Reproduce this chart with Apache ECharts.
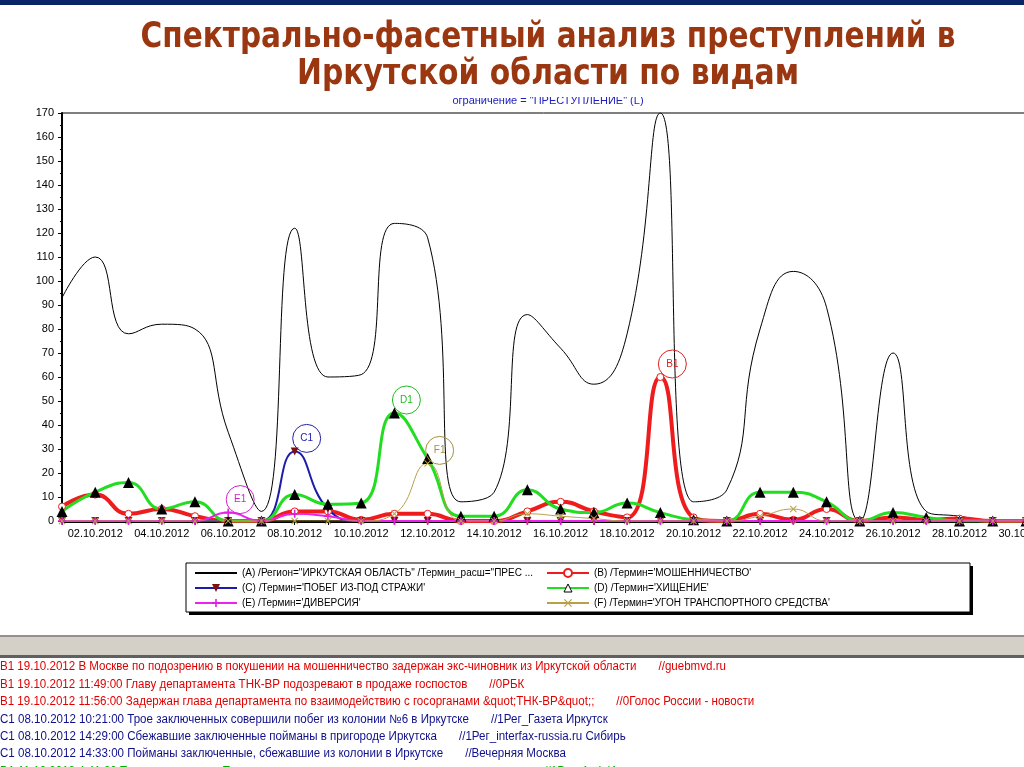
<!DOCTYPE html>
<html><head><meta charset="utf-8">
<script src="https://cdn.jsdelivr.net/npm/echarts@6/dist/echarts.min.js"></script>
<style>html,body{margin:0;padding:0;background:#fff;overflow:hidden}#c{width:1024px;height:767px}</style>
</head><body><div id="c"></div>
<script>
// ---- data ----
const days = ['01.10.2012','02.10.2012','03.10.2012','04.10.2012','05.10.2012','06.10.2012','07.10.2012','08.10.2012','09.10.2012','10.10.2012',
  '11.10.2012','12.10.2012','13.10.2012','14.10.2012','15.10.2012','16.10.2012','17.10.2012','18.10.2012','19.10.2012','20.10.2012',
  '21.10.2012','22.10.2012','23.10.2012','24.10.2012','25.10.2012','26.10.2012','27.10.2012','28.10.2012','29.10.2012','30.10.2012'];
const seriesNames = [
  '(A) /Регион="ИРКУТСКАЯ ОБЛАСТЬ" /Термин_расш="ПРЕС ...',
  "(B) /Термин='МОШЕННИЧЕСТВО'",
  "(C) /Термин='ПОБЕГ ИЗ-ПОД СТРАЖИ'",
  "(D) /Термин='ХИЩЕНИЕ'",
  "(E) /Термин='ДИВЕРСИЯ'",
  "(F) /Термин='УГОН ТРАНСПОРТНОГО СРЕДСТВА'"
];
const valuesA = [93,110,78,82,80,37,4,122,60,61,124,118,8,12,86,72,57,78,170,8,13,80,104,89,0,70,4,2,0,0];
const valuesB = [6,11,3,5,2,0,0,4,4,0.5,3,3,0,0,4,8,4,1.5,60,1.5,0,3,0.5,5,0,1.5,0.5,1,0,0];
const valuesC = [0,0,0,0,0,0,0,29,5,0,0,0,0,0,0,0,0,0,0,0,0,0,0,0,0,0,0,0,0,0];
const valuesD = [4,12,16,5,8,0,0,11,7,7.5,45,26,2,2,13,5,3.5,7.5,3.5,0.5,0,12,12,8,0,3.5,1.5,0,0,0];
const valuesE = [0,0,0,0,0,3.5,0,3,2,0,0,0,0,0,0,0,0,0,0,0,0,0,0,0,0,0,0,0,0,0];
const valuesF = [0,0,0,0,0,0,0,0,0,0,3,24,0,0,3,2,1,0,0,0,0,2,5,0,0,0,0,0,0,0];
const yTicks = {min: 0, max: 170, interval: 10};
const annoLabels = ['B1','C1','D1','E1','F1'];
const annoSeries = [1,2,3,4,5];
const annoDays = ['19.10.2012','08.10.2012','11.10.2012','06.10.2012','12.10.2012'];
const titleLines = ['Спектрально-фасетный анализ преступлений в','Иркутской области по видам'];
const subTitle = 'ограничение = "ПРЕСТУПЛЕНИЕ" (L)';
const newsText = [
  'B1 19.10.2012 В Москве по подозрению в покушении на мошенничество задержан экс-чиновник из Иркутской области',
  'B1 19.10.2012 11:49:00 Главу департамента ТНК-BP подозревают в продаже госпостов',
  'B1 19.10.2012 11:56:00 Задержан глава департамента по взаимодействию с госорганами &quot;ТНК-BP&quot;;',
  'C1 08.10.2012 10:21:00 Трое заключенных совершили побег из колонии №6 в Иркутске',
  'C1 08.10.2012 14:29:00 Сбежавшие заключенные пойманы в пригороде Иркутска',
  'C1 08.10.2012 14:33:00 Пойманы заключенные, сбежавшие из колонии в Иркутске',
  'D1 11.10.2012 4:41:00 Трое подростков в Приангарье подозреваются в нападении на почтальона'
];
const newsSource = ['//guebmvd.ru','//0РБК','//0Голос России - новости','//1Рег_Газета Иркутск','//1Рег_interfax-russia.ru Сибирь','//Вечерняя Москва','//1Рег_АиФ Иркутск новости'];
const newsKind = ['B','B','B','C','C','C','D'];

// ---- styles ----
const colors = ['#000000','#ee1c1c','#1c1ca8','#22dd22','#ee22ee','#b8a048'];
const widths = [1,4,2,3,2,1];
const kindColor = {B:'#e00000', C:'#10108c', D:'#00b000'};
const annoColor = ['#dd2222','#2222aa','#22bb22','#cc22cc','#a09040'];

const plusPath = 'path://M4,0H6V4H10V6H6V10H4V6H0V4H4Z';
const xPath = 'path://M1,0L5,4L9,0L10,1L6,5L10,9L9,10L5,6L1,10L0,9L4,5L0,1Z';

const ctx = document.createElement('canvas').getContext('2d');
function measure(t, font){ ctx.font = font; return ctx.measureText(t).width; }

const chart = echarts.init(document.getElementById('c'));

const vals = [valuesA, valuesB, valuesC, valuesD, valuesE, valuesF];
const symbols = ['none','circle','triangle','triangle',plusPath,xPath];
const symSize = [0,7,8,11,8,7];
const itemStyles = [
  {color:'#000'},
  {color:'#fff', borderColor:'#ee1c1c', borderWidth:1},
  {color:'#801010'},
  {color:'#000'},
  {color:'#dd22dd'},
  {color:'#b8a048'}
];

const series = seriesNames.map((n,i)=>({
  name:n, type:'line', data: vals[i], smooth:0.5,
  symbol: symbols[i], symbolSize: symSize[i], showSymbol: i>0,
  symbolRotate: i===2 ? 180 : 0,
  lineStyle:{color:colors[i], width:widths[i]},
  itemStyle: itemStyles[i],
  emphasis:{disabled:true}, animation:false
}));
annoLabels.forEach((lab,k)=>{
  const si = annoSeries[k];
  const di = days.indexOf(annoDays[k]);
  series[si].markPoint = {
    symbol:'circle', symbolSize:28, symbolOffset:[12,-13], silent:true, animation:false,
    itemStyle:{color:'rgba(255,255,255,0)', borderColor:annoColor[k], borderWidth:1},
    label:{show:true, position:'inside', formatter:lab, color:annoColor[k], fontSize:10, fontFamily:'Liberation Sans'},
    data:[{coord:[days[di], vals[si][di]]}]
  };
});

// graphics
const g = [];
g.push({type:'rect', shape:{x:0,y:0,width:1024,height:5}, style:{fill:'#0a246a'}});
const tFont = 'bold 36px "DejaVu Sans"';
const tTargets = [815, 502];
const tY = [38, 75];
titleLines.forEach((t,i)=>{
  const w = measure(t, tFont);
  g.push({type:'text', x:548, y:tY[i], scaleX: tTargets[i]/w, scaleY:1,
    style:{text:t, font:tFont, fill:'#9a3610', align:'center', verticalAlign:'middle'}});
});
g.push({type:'text', x:548, y:101, style:{text:subTitle, font:'11px "Liberation Sans"', fill:'#2020c0', align:'center', verticalAlign:'middle'}});
g.push({type:'rect', shape:{x:440,y:92,width:220,height:5}, style:{fill:'#fff'}, z:10});
// legend frame
g.push({type:'rect', shape:{x:189,y:566,width:784,height:49}, style:{fill:'#000'}, z:-1});
g.push({type:'rect', shape:{x:186,y:563,width:784,height:49}, style:{fill:'#fff', stroke:'#000', lineWidth:1}, z:-1});
// gray band
g.push({type:'rect', shape:{x:0,y:636,width:1024,height:22}, style:{fill:'#d4d0c8'}});
g.push({type:'rect', shape:{x:0,y:635,width:1024,height:2}, style:{fill:'#909090'}});
g.push({type:'rect', shape:{x:0,y:655,width:1024,height:3}, style:{fill:'#606060'}});
// news
const nFont = '12px "Liberation Sans"';
const nScale = 437 / measure(newsText[4], nFont);
newsText.forEach((t,i)=>{
  const y = 667 + i*17.4;
  const w = measure(t, nFont)*nScale;
  g.push({type:'text', x:0, y:y, scaleX:nScale, style:{text:t, font:nFont, fill:kindColor[newsKind[i]], verticalAlign:'middle'}});
  g.push({type:'text', x:w+22, y:y, scaleX:nScale, style:{text:newsSource[i], font:nFont, fill:kindColor[newsKind[i]], verticalAlign:'middle'}});
});

const legendCommon = {orient:'vertical', itemWidth:42, itemHeight:10, itemGap:5, top:563,
  textStyle:{fontSize:10, fontFamily:'Liberation Sans', color:'#000'}, selectedMode:false};

chart.setOption({
  animation:false,
  grid:{left:62, right:-2, top:113, bottom:246, outerBoundsMode:'none', containLabel:false, show:true, borderColor:'#000', borderWidth:1, backgroundColor:'transparent'},
  xAxis:{type:'category', data:days, boundaryGap:false,
    axisLine:{lineStyle:{color:'#000', width:3}},
    axisTick:{show:true, interval:0, length:4, lineStyle:{color:'#000'}},
    axisLabel:{interval:(i)=>i%2===1, color:'#000', fontSize:11, fontFamily:'Liberation Sans', margin:7, showMaxLabel:true, hideOverlap:false},
    splitLine:{show:false}},
  yAxis:{type:'value', min:yTicks.min, max:yTicks.max, interval:yTicks.interval,
    axisLine:{show:true, lineStyle:{color:'#000', width:2}},
    axisTick:{show:true, length:4, lineStyle:{color:'#000'}},
    minorTick:{show:true, splitNumber:2, length:2, lineStyle:{color:'#000'}},
    axisLabel:{color:'#000', fontSize:11, fontFamily:'Liberation Sans', margin:8},
    splitLine:{show:false}},
  legend:[
    Object.assign({left:189, data:[{name:seriesNames[0], itemStyle:{color:'rgba(0,0,0,0)', borderWidth:0, opacity:0}}, seriesNames[2], seriesNames[4]]}, legendCommon),
    Object.assign({left:541, data:[seriesNames[1], {name:seriesNames[3], itemStyle:{color:'#fff', borderColor:'#000', borderWidth:1}}, seriesNames[5]]}, legendCommon)
  ],
  series: series,
  graphic: g
});
</script>
</body></html>
